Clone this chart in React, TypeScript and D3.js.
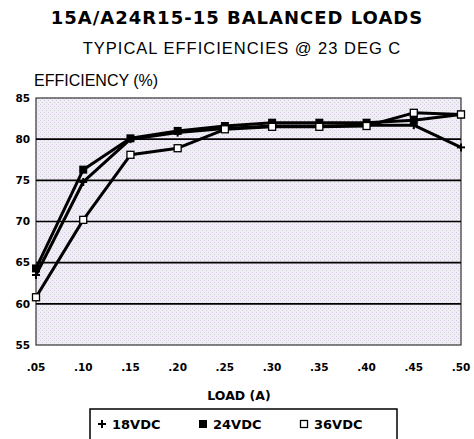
import React from 'react';
import * as d3 from 'd3';

const loads = [0.05, 0.1, 0.15, 0.2, 0.25, 0.3, 0.35, 0.4, 0.45, 0.5];
const loadLabels = ['.05', '.10', '.15', '.20', '.25', '.30', '.35', '.40', '.45', '.50'];
const yTicks = [55, 60, 65, 70, 75, 80, 85];

const eff18 = [63.5, 74.8, 80.0, 80.8, 81.3, 81.6, 81.6, 81.7, 81.7, 79.0];
const eff24 = [64.3, 76.3, 80.1, 81.0, 81.6, 82.0, 82.0, 82.0, 82.3, 83.0];
const eff36 = [60.8, 70.2, 78.1, 78.9, 81.2, 81.5, 81.5, 81.6, 83.2, 83.0];

const seriesNames = ['18VDC', '24VDC', '36VDC'];

const W = 474;
const H = 439;
const margin = { top: 98, right: 13, bottom: 94, left: 36 };

const App = () => {
    const x = d3.scaleLinear()
        .domain([0.05, 0.5])
        .range([margin.left, W - margin.right]);
    const y = d3.scaleLinear()
        .domain([55, 85])
        .range([H - margin.bottom, margin.top]);

    const line = d3.line<number>()
        .x((d, i) => x(loads[i]))
        .y(d => y(d));

    const series = [eff18, eff24, eff36];
    const font = 'Liberation Sans, Arial, sans-serif';
    const heavy = 'DejaVu Sans, sans-serif';

    const marker = (k: number, cx: number, cy: number, key: string) => {
        if (k === 0) {
            return (
                <g key={key} stroke="#000" strokeWidth={2}>
                    <line x1={cx - 4} x2={cx + 4} y1={cy} y2={cy} />
                    <line x1={cx} x2={cx} y1={cy - 4} y2={cy + 4} />
                </g>
            );
        }
        if (k === 1) {
            return <rect key={key} x={cx - 4} y={cy - 4} width={8} height={8} fill="#000" />;
        }
        return <rect key={key} x={cx - 3.5} y={cy - 3.5} width={7} height={7} fill="#fff" stroke="#000" strokeWidth={1.3} />;
    };

    const legendX = [100, 201, 302];

    return (
        <svg width={W} height={H} style={{ position: 'absolute', left: 0, top: 0, background: '#fff' }}>
            <defs>
                <pattern id="dots" width={4} height={4} patternUnits="userSpaceOnUse">
                    <rect width={4} height={4} fill="#f0eef5" />
                    <rect x={0} y={0} width={1} height={1} fill="#dcc6e6" />
                    <rect x={2} y={2} width={1} height={1} fill="#d2d0da" />
                </pattern>
            </defs>

            <text x={W / 2} y={24} textAnchor="middle" fontFamily={heavy} fontWeight="bold" fontSize={18} letterSpacing={1}>
                15A/A24R15-15 BALANCED LOADS
            </text>
            <text x={W / 2 + 5} y={54} textAnchor="middle" fontFamily={font} fontSize={16.5} letterSpacing={1}>
                TYPICAL EFFICIENCIES @ 23 DEG C
            </text>
            <text x={34} y={86} fontFamily={font} fontSize={16}>
                EFFICIENCY (%)
            </text>

            <rect x={margin.left} y={margin.top}
                width={W - margin.left - margin.right}
                height={H - margin.top - margin.bottom}
                fill="url(#dots)" stroke="#333" strokeWidth={1.2} />

            {yTicks.slice(1, -1).map(t => (
                <line key={t} x1={margin.left} x2={W - margin.right} y1={y(t)} y2={y(t)} stroke="#000" strokeWidth={1.6} />
            ))}

            {yTicks.map(t => (
                <text key={t} x={30} y={y(t)} dy="0.35em" textAnchor="end" fontFamily={heavy} fontWeight="bold" fontSize={10.5}>
                    {t}
                </text>
            ))}

            {loads.map((l, i) => (
                <text key={l} x={x(l)} y={371} textAnchor="middle" fontFamily={heavy} fontWeight="bold" fontSize={10.5}>
                    {loadLabels[i]}
                </text>
            ))}

            <text x={W / 2 + 2} y={400} textAnchor="middle" fontFamily={heavy} fontWeight="bold" fontSize={12.5}>
                LOAD (A)
            </text>

            {series.map((s, k) => (
                <path key={k} d={line(s) || ''} fill="none" stroke="#000" strokeWidth={3} strokeLinejoin="round" />
            ))}
            {series.map((s, k) => s.map((v, i) => marker(k, x(loads[i]), y(v), `${k}-${i}`)))}

            <rect x={90} y={409} width={307} height={32} fill="#fff" stroke="#000" strokeWidth={1.5} />
            {seriesNames.map((n, k) => (
                <g key={n}>
                    {marker(k, legendX[k] + 2, 424, `lg${k}`)}
                    <text x={legendX[k] + 12} y={424} dy="0.35em" fontFamily={heavy} fontWeight="bold" fontSize={13}>
                        {n}
                    </text>
                </g>
            ))}
        </svg>
    );
};

export default App;
